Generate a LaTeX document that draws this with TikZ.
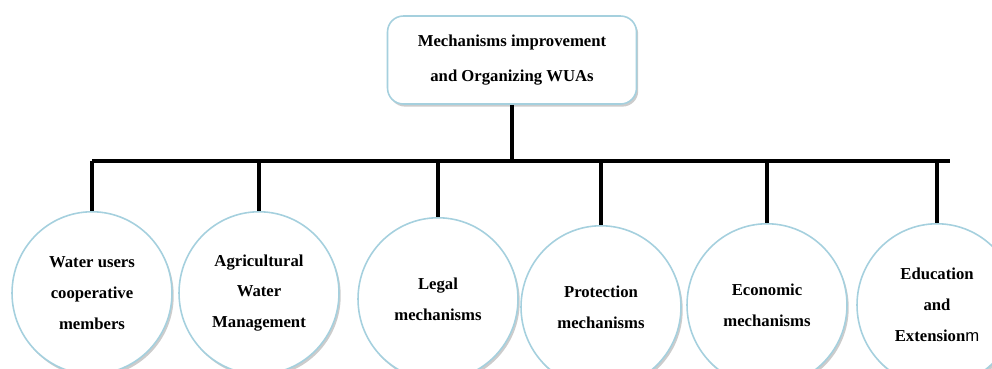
\documentclass[tikz,border=0pt]{standalone}
\usepackage{fontspec}
\setmainfont{Liberation Serif}
\setsansfont{Liberation Sans}
\usetikzlibrary{shapes.geometric,shadows}
\definecolor{rimblue}{RGB}{165,208,222}
\tikzset{
  >=latex,
  link/.style={line width=2.2pt},
  root/.style={draw=rimblue, fill=white, line width=0.9pt, rounded corners=9pt,
    minimum width=4.98cm, minimum height=1.76cm, align=center,
    font=\bfseries\fontsize{9.5}{19.5}\selectfont,
    drop shadow={shadow xshift=1pt, shadow yshift=-1.5pt, opacity=.4}},
  topic/.style={ellipse, draw=rimblue, fill=white, line width=0.9pt,
    minimum width=3.2cm, minimum height=3.25cm, align=center,
    font=\bfseries\fontsize{9.5}{17.5}\selectfont,
    drop shadow={shadow xshift=1pt, shadow yshift=-1.5pt, opacity=.4}},
}
\begin{document}
\begin{tikzpicture}[x=0.02cm,y=-0.02cm]
    \path[use as bounding box,clip] (0,0) rectangle (992,369);
    \node[root] (root) at (512,60) {Mechanisms improvement\\and Organizing WUAs};
    \node[topic] (c1) at (92,293) {Water users\\cooperative\\members};
    \node[topic] (c2) at (259,293) {Agricultural\\Water\\Management};
    \node[topic] (c3) at (438,299) {Legal\\mechanisms};
    \node[topic] (c4) at (601,307) {Protection\\mechanisms};
    \node[topic] (c5) at (767,305) {Economic\\mechanisms};
    \node[topic] (c6) at (937,305) {Education\\and\\Extension{\mdseries\sffamily m}};
    \coordinate (barL) at (92,161);
    \coordinate (barR) at (950,161);
    \draw[link] (barL) -- (barR);
    \draw[link] (root) -- (root |- barL);
    \foreach \n in {c1,c2,c3,c4,c5,c6}
      \draw[link] (\n.north |- barL) -- (\n.north);
  \end{tikzpicture}
\end{document}
